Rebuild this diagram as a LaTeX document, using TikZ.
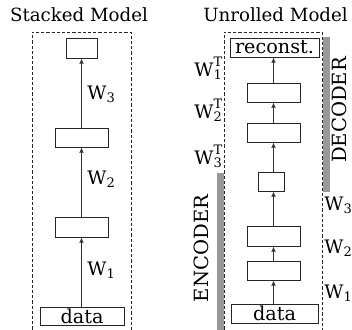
\documentclass[tikz,border=0pt]{standalone}
\usepackage{fontspec}
\setmainfont{DejaVu Serif}
\usetikzlibrary{arrows.meta}
\newcommand{\myWT}[1]{W\rlap{\raisebox{0.2ex}{\textsuperscript{T}}}\textsubscript{#1}}
\begin{document}
\begin{tikzpicture}[x=0.5pt,y=-0.5pt,
  box/.style={draw=black!85, line width=0.5pt, inner sep=0pt, anchor=center, font=\fontsize{9.6}{11}\selectfont},
  arr/.style={draw=black!80, line width=0.5pt, -{Latex[length=2.6pt,width=2.4pt]}},
  lab/.style={anchor=base west, inner sep=0pt, font=\fontsize{9.3}{11}\selectfont},
  ttl/.style={inner sep=0pt, font=\fontsize{9.1}{11}\selectfont},
  bigl/.style={inner sep=0pt, rotate=90, font=\fontsize{9.8}{11}\selectfont},
  frame/.style={draw=black!85, line width=0.4pt, dash pattern=on 1.6pt off 1pt},
  bar/.style={fill=black!40, draw=none}]
\useasboundingbox (0,0) rectangle (352,329);

% titles
\node[ttl] (t1) at (79,15) {Stacked Model};
\node[ttl] (t2) at (275.5,15) {Unrolled Model};

% frames
\draw[frame] (32,340) -- (32,32) -- (131,32) -- (131,340);
\draw[frame] (224,340) -- (224,32) -- (322,32) -- (322,340);

% gray bars
\fill[bar] (217,173) rectangle (224,340);
\fill[bar] (323,37) rectangle (330,192);

% left: stacked model
\node[box, minimum width=15.5pt, minimum height=10pt] (L4) at (81.5,48) {};
\node[box, minimum width=26.5pt, minimum height=9.5pt] (L3) at (81.5,137.5) {};
\node[box, minimum width=26.5pt, minimum height=10pt] (L2) at (81.5,227) {};
\node[box, minimum width=42pt, minimum height=9pt] (L1) at (82,316) {data};

\draw[arr] (L2.south |- L1.north) -- (L2.south);
\draw[arr] (L2.north) -- (L3.south);
\draw[arr] (L3.north) -- (L4.south);

\node[lab] (lw3) at (87,99) {W\textsubscript{3}};
\node[lab] (lw2) at (87,184) {W\textsubscript{2}};
\node[lab] (lw1) at (87,275) {W\textsubscript{1}};

% right: unrolled model
\node[box, minimum width=44.5pt, minimum height=9.5pt] (R7) at (274.5,47.5) {reconst.};
\node[box, minimum width=26.5pt, minimum height=9.5pt] (R6) at (273.5,92.5) {};
\node[box, minimum width=26.5pt, minimum height=9.5pt] (R5) at (273.5,132.5) {};
\node[box, minimum width=13pt, minimum height=9.5pt] (R4) at (271,181.5) {};
\node[box, minimum width=26.5pt, minimum height=10pt] (R3) at (273.5,236) {};
\node[box, minimum width=26.5pt, minimum height=9.5pt] (R2) at (273.5,270.5) {};
\node[box, minimum width=43.5pt, minimum height=9.5pt] (R1) at (274.5,313.5) {data};

\draw[arr] (R2.south |- R1.north) -- (R2.south);
\draw[arr] (R2.north) -- (R3.south);
\draw[arr] (R3.north) -- (R3.north |- R4.south);
\draw[arr] (R3.north |- R4.north) -- (R5.south);
\draw[arr] (R5.north) -- (R6.south);
\draw[arr] (R6.north) -- (R6.north |- R7.south);

\node[lab] (rt1) at (194,76) {\myWT{1}};
\node[lab] (rt2) at (194,118) {\myWT{2}};
\node[lab] (rt3) at (194,164) {\myWT{3}};

\node[lab] (rw3) at (324,210) {W\textsubscript{3}};
\node[lab] (rw2) at (324,253) {W\textsubscript{2}};
\node[lab] (rw1) at (324,298) {W\textsubscript{1}};

\node[bigl] (enc) at (201,248.5) {ENCODER};
\node[bigl] (dec) at (339,110) {DECODER};
\end{tikzpicture}
\end{document}
